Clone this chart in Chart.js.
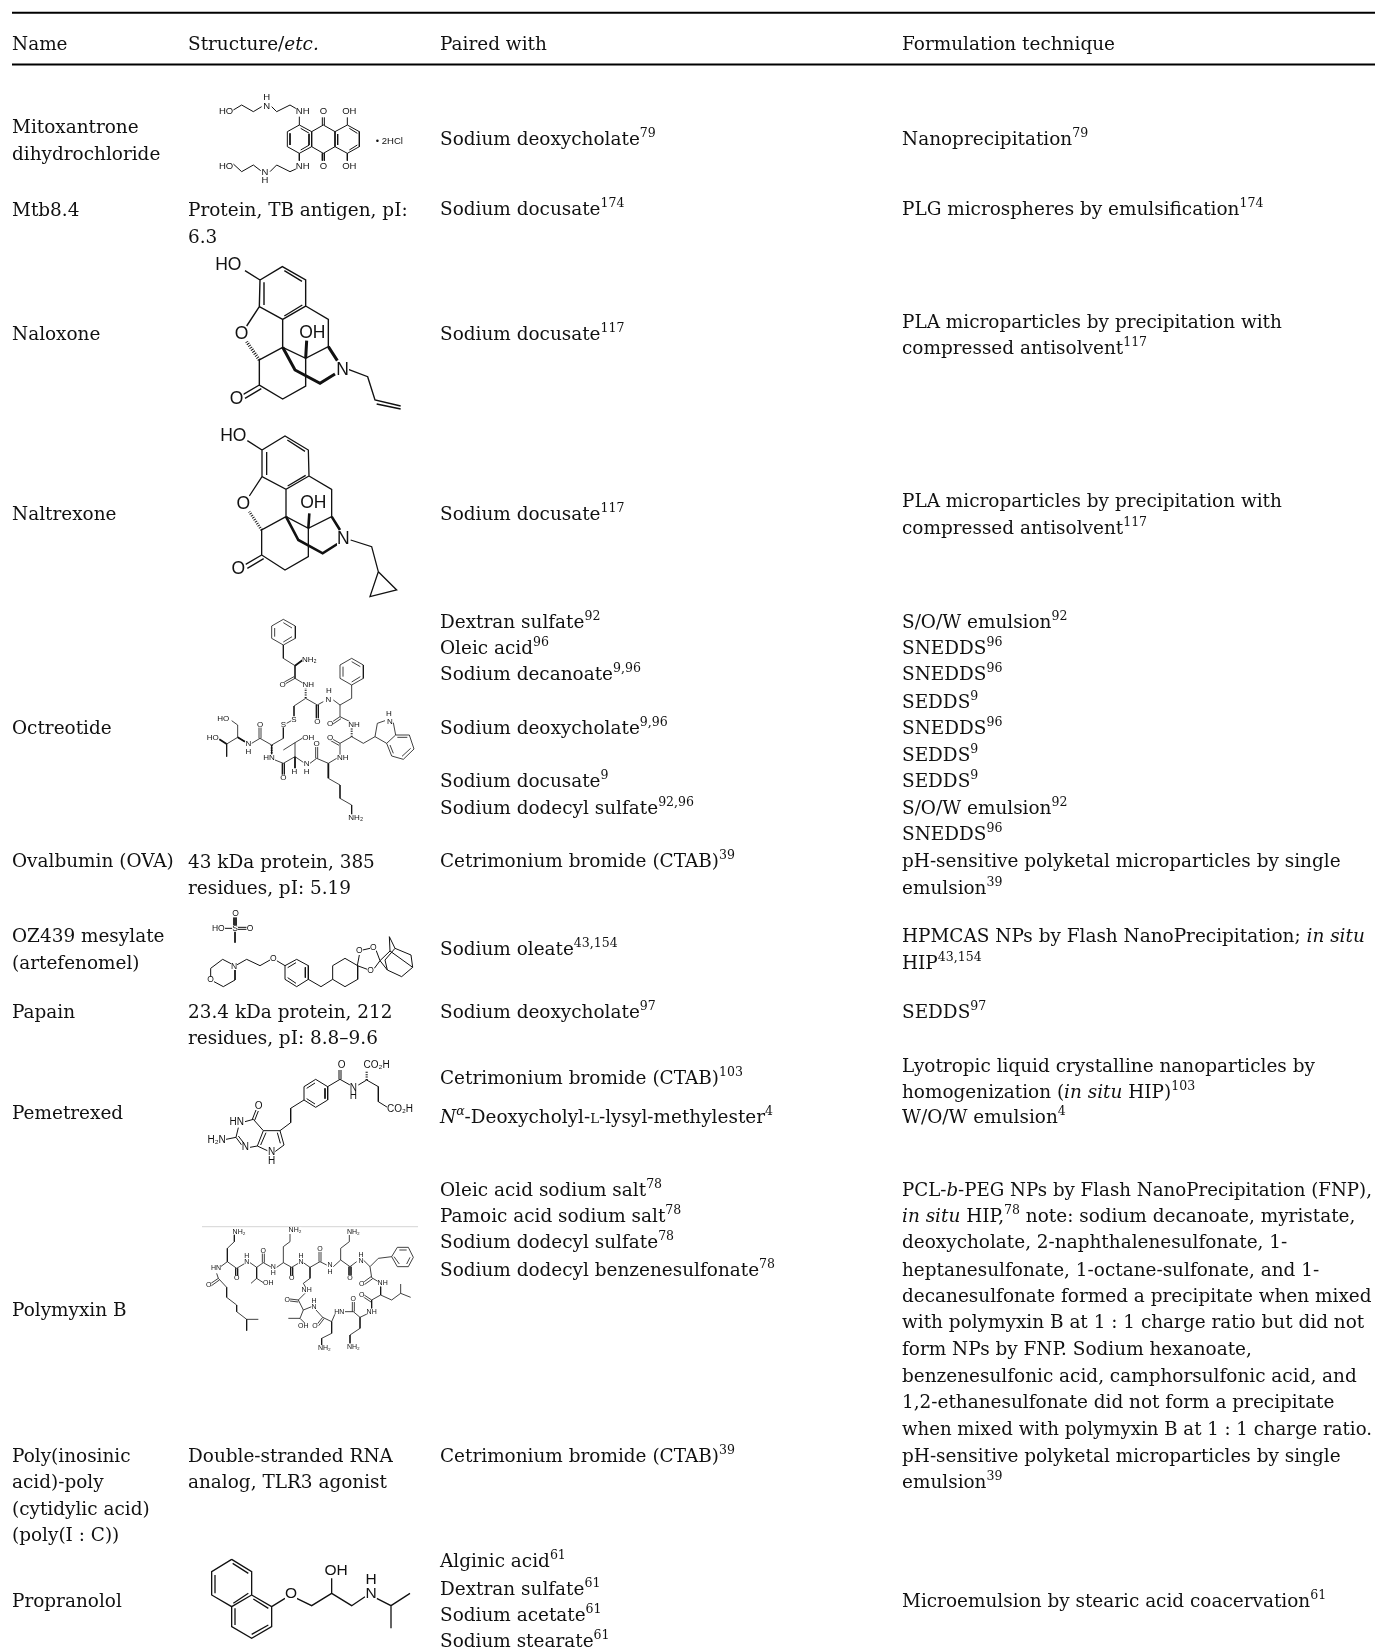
<!DOCTYPE html>
<html><head><meta charset="utf-8">
<style>html,body{margin:0;padding:0;background:#fff}#wrap{position:relative;width:1375px;height:1650px}canvas{display:block;filter:blur(.35px)}</style>
<script src="https://cdn.jsdelivr.net/npm/chart.js@4/dist/chart.umd.min.js"></script>
</head><body><div id="wrap"><canvas id="c" width="1375" height="1650"></canvas></div>
<script>
// ---------- table text (one entry per printed line); ^..^ superscript, *..* italic, ~..~ small caps
const headers = ["Name","Structure/*etc.*","Paired with","Formulation technique"];
const names = ["Mitoxantrone","dihydrochloride","Mtb8.4","Naloxone","Naltrexone","Octreotide","Ovalbumin (OVA)","OZ439 mesylate","(artefenomel)","Papain","Pemetrexed","Polymyxin B","Poly(inosinic","acid)-poly","(cytidylic acid)","(poly(I : C))","Propranolol"];
const structures = ["Protein, TB antigen, pI:","6.3","43 kDa protein, 385","residues, pI: 5.19","23.4 kDa protein, 212","residues, pI: 8.8–9.6","Double-stranded RNA","analog, TLR3 agonist"];
const pairedWith = ["Sodium deoxycholate^79^","Sodium docusate^174^","Sodium docusate^117^","Sodium docusate^117^","Dextran sulfate^92^","Oleic acid^96^","Sodium decanoate^9,96^","Sodium deoxycholate^9,96^","Sodium docusate^9^","Sodium dodecyl sulfate^92,96^","Cetrimonium bromide (CTAB)^39^","Sodium oleate^43,154^","Sodium deoxycholate^97^","Cetrimonium bromide (CTAB)^103^","*N*^*α*^-Deoxycholyl-~L~-lysyl-methylester^4^","Oleic acid sodium salt^78^","Pamoic acid sodium salt^78^","Sodium dodecyl sulfate^78^","Sodium dodecyl benzenesulfonate^78^","Cetrimonium bromide (CTAB)^39^","Alginic acid^61^","Dextran sulfate^61^","Sodium acetate^61^","Sodium stearate^61^"];
const techniques = ["Nanoprecipitation^79^","PLG microspheres by emulsification^174^","PLA microparticles by precipitation with","compressed antisolvent^117^","PLA microparticles by precipitation with","compressed antisolvent^117^","S/O/W emulsion^92^","SNEDDS^96^","SNEDDS^96^","SEDDS^9^","SNEDDS^96^","SEDDS^9^","SEDDS^9^","S/O/W emulsion^92^","SNEDDS^96^","pH-sensitive polyketal microparticles by single","emulsion^39^","HPMCAS NPs by Flash NanoPrecipitation; *in situ*","HIP^43,154^","SEDDS^97^","Lyotropic liquid crystalline nanoparticles by","homogenization (*in situ* HIP)^103^","W/O/W emulsion^4^","PCL-*b*-PEG NPs by Flash NanoPrecipitation (FNP),","*in situ* HIP,^78^ note: sodium decanoate, myristate,","deoxycholate, 2-naphthalenesulfonate, 1-","heptanesulfonate, 1-octane-sulfonate, and 1-","decanesulfonate formed a precipitate when mixed","with polymyxin B at 1 : 1 charge ratio but did not","form NPs by FNP. Sodium hexanoate,","benzenesulfonic acid, camphorsulfonic acid, and","1,2-ethanesulfonate did not form a precipitate","when mixed with polymyxin B at 1 : 1 charge ratio.","pH-sensitive polyketal microparticles by single","emulsion^39^","Microemulsion by stearic acid coacervation^61^"];

// ---------- molecule drawings: polylines [x,y,x,y,...], in crop pixels
const mitoBonds = [[70,60,95,45,130,65,155,50],[185,50,200,65,240,45,262,58],[70,222,95,245,130,225,152,242],[180,245,200,225,240,245,262,235],[268,105,305,125,305,170,268,190,232,170,232,125,268,105],[305,125,340,105,375,125,375,170,340,190,305,170],[375,125,412,105,448,125,448,170,412,190,375,170],[240,130,240,165],[272,115,298,130],[272,180,298,165],[297,132,297,165],[383,132,383,165],[418,115,442,130],[418,180,442,165],[268,105,268,80],[337,105,337,82],[343,105,343,82],[412,105,412,82],[268,190,268,212],[337,190,337,212],[343,190,343,212],[412,190,412,212]];
const mitoLabels = [[48,65,"HO"],[170,22,"H"],[170,48,"N"],[278,65,"NH"],[340,65,"O"],[418,65,"OH"],[48,228,"HO"],[278,228,"NH"],[165,248,"N"],[165,272,"H"],[340,228,"O"],[418,228,"OH"],[538,155,"• 2HCl"]];
const naloxBonds = [[165,62,210,90,277,50,347,90,347,168,278,208,208,170,210,90],[283,62,336,94],[337,165,283,198],[222,165,222,97],[347,168,415,208,415,290,347,325,278,292,278,208],[278,292,208,330,208,405,278,447,347,408,347,325],[208,170,170,228],[208,405,160,433],[214,416,165,445],[475,358,533,380,555,450,632,468],[560,462,632,477]];
const naloxWedges = [[278,292,315,360,390,400,435,372],[347,325,350,272],[415,290,442,332]];
const naloxHashes = [[208,330,170,275]];
const naloxLabels = [[115,47,"HO"],[155,252,"O"],[367,250,"OH"],[458,360,"N"],[140,447,"O"]];
const naltrBonds = [[172,572,216,600,285,558,355,600,357,678,288,718,216,680,216,600],[292,570,345,604],[347,676,293,708],[230,675,230,606],[357,678,425,718,425,800,355,835,288,800,288,718],[288,800,215,840,215,915,285,960,355,920,355,835],[216,680,178,738],[215,915,167,943],[221,926,172,955],[482,870,545,890,565,965,540,1040,620,1020,565,965]];
const naltrWedges = [[288,800,325,870,398,910,442,882],[355,835,358,790],[425,800,450,840]];
const naltrHashes = [[215,840,178,785]];
const naltrLabels = [[130,560,"HO"],[160,762,"O"],[370,760,"OH"],[460,868,"N"],[145,957,"O"]];
const octreoBonds = [[280,58,316,78,316,115,280,135,245,115,245,78,280,58],[280,68,306,84],[306,110,280,126],[254,110,254,84],[280,135,280,175,315,197,315,235,340,250],[315,235,285,252],[312,230,283,246],[347,295,312,318,312,350],[304,362,290,370],[280,380,280,415,245,435,210,415,185,430],[213,415,213,382],[207,415,207,382],[165,425,143,412,143,375,125,362],[143,412,110,432,110,470],[245,435,245,465],[255,480,280,490,315,470,315,428,280,450],[277,490,277,525],[283,490,283,525],[315,428,340,413],[315,470,340,487],[360,490,380,475,415,490,440,475],[377,475,377,438],[383,475,383,438],[415,535,450,555,450,595,485,615,485,645],[450,465,450,430,485,410,520,430,555,410,562,370,585,362],[450,430,420,413],[447,436,417,419],[610,368,617,405,590,430,555,410],[617,405,658,405,672,447,640,478,605,468,590,430],[622,412,652,412],[662,445,636,469],[600,435,610,460],[480,365,450,350,450,315,485,295,485,255],[450,350,420,370],[453,356,423,376],[485,175,520,195,520,235,485,255,450,235,450,195,485,175],[485,185,511,200],[511,230,485,246],[459,230,459,200],[450,315,430,300],[400,305,382,315,347,295],[379,315,379,355],[385,315,385,355]];
const octreoWedges = [[315,197,338,180],[143,412,165,425],[110,432,88,418],[415,490,415,535],[315,470,315,505]];
const octreoHashes = [[347,262,347,295],[245,435,245,462],[485,410,485,385]];
const octreoLabels = [[358,178,"NH₂"],[355,255,"NH"],[417,272,"H"],[415,300,"N"],[382,365,"O"],[278,255,"O"],[312,358,"S"],[280,373,"S"],[210,373,"O"],[100,355,"HO"],[68,412,"HO"],[175,432,"N"],[175,455,"H"],[237,472,"HN"],[280,533,"O"],[313,516,"H"],[350,490,"N"],[350,515,"H"],[355,412,"OH"],[380,432,"O"],[458,473,"NH"],[420,413,"O"],[492,373,"NH"],[420,370,"O"],[600,365,"N"],[597,342,"H"],[497,652,"NH₂"]];
const ozBonds = [[138,52,138,75],[132,52,132,75],[105,85,128,85],[143,82,170,82],[143,88,170,88],[135,95,135,128],[62,230,62,205,98,178,125,192],[135,210,135,240,100,260,72,245],[140,195,170,178,210,197,240,180],[260,182,285,197,320,178,355,197,355,238,320,260,285,238,285,197],[293,203,318,188],[346,202,346,233],[293,233,318,250],[355,238,393,260,428,238,428,197,465,175,503,197,503,238,465,260,428,238]];
const ozCageBonds = [[52,122,58,90],[68,75,90,70],[52,122,82,133],[103,130,120,107],[108,75,120,107],[120,107,150,78,148,35,165,70,213,90,218,127,185,155,142,135,120,107],[150,78,218,127],[165,70,135,105,142,135]];
const ozLabels = [[137,42,"O"],[85,87,"HO"],[135,85,"S"],[180,87,"O"],[62,240,"O"],[132,200,"N"],[250,175,"O"]];
const ozCageLabels = [[58,78,"O"],[100,68,"O"],[92,138,"O"]];
const pemeBonds = [[342,560,377,538,413,560,413,600,377,622,342,600,342,560],[350,565,375,549],[405,565,405,596],[350,596,375,612],[413,560,450,538,480,555],[447,538,447,510],[453,538,453,510],[505,555,530,540,565,560,565,605,597,625]];
const pemeHashes = [[530,540,530,512]];
const pemeLabels = [[455,495,"O"],[560,497,"CO₂H"],[490,565,"N"],[490,590,"H"],[630,628,"CO₂H"]];
const pemeRingBonds = [[312,120,272,145,272,188,240,212],[157,178,168,150],[164,181,175,153],[135,185,160,178,190,212,240,212,252,255,225,275],[190,212,172,258],[198,218,182,255],[172,258,150,262],[125,255,108,232],[132,250,115,228],[108,232,115,203],[78,238,108,232],[202,272,172,258],[232,218,241,250]];
const pemeRingLabels = [[176,138,"O"],[110,188,"HN"],[50,240,"H₂N"],[136,263,"N"],[215,278,"N"],[215,305,"H"]];
const polyBonds = [[133,72,133,95,112,115,112,155,92,170],[112,155,140,175,165,160],[137,175,137,197],[143,175,143,197],[180,158,200,172,220,158,245,172],[217,158,217,130],[223,158,223,130],[200,172,200,205,183,220],[200,205,220,218],[260,172,280,158,280,110,300,95,300,72],[280,158,305,172,325,160],[302,172,302,197],[308,172,308,197],[340,158,360,172,390,155,410,165],[387,155,387,125],[393,155,393,125],[360,172,360,205,340,220,347,232],[430,170,452,150,452,115,478,95,478,75],[452,150,480,170,500,155],[477,170,477,195],[483,170,483,195],[520,150,540,170,565,145,605,140],[605,140,622,112,655,112,670,142,655,170,622,170,605,140],[628,120,650,120],[660,142,650,162],[612,140,628,162],[540,170,545,203,565,215],[543,200,520,217],[548,206,523,224],[572,230,572,255,605,270,632,250,632,222],[632,250,662,262],[572,255,545,270,545,295],[545,270,518,252],[543,276,516,258],[535,310,510,322,490,305,465,305],[487,305,487,275],[493,305,493,275],[435,312,425,335,398,322,378,300],[398,322,382,342],[402,326,386,347],[365,290,340,300,325,270,345,250],[325,270,300,267],[325,276,300,273],[340,300,330,325,345,340],[330,325,295,325],[425,335,425,370,395,385,395,405],[510,322,510,355,480,375,480,400],[80,190,85,205,110,232,110,262,140,285,140,305,170,328,205,328],[85,205,60,222],[88,210,63,228],[170,328,170,362]];
const polyLabels = [[147,66,"NH₂"],[315,60,"NH₂"],[490,65,"NH₂"],[78,175,"HN"],[170,137,"H"],[170,155,"N"],[220,122,"O"],[333,137,"H"],[333,155,"N"],[390,117,"O"],[420,165,"N"],[420,185,"H"],[513,135,"H"],[513,152,"N"],[140,205,"O"],[250,170,"N"],[250,190,"H"],[305,205,"O"],[235,220,"OH"],[56,225,"O"],[480,203,"O"],[350,240,"NH"],[578,218,"NH"],[515,222,"O"],[292,270,"O"],[372,272,"H"],[372,290,"N"],[515,255,"O"],[490,268,"O"],[448,305,"HN"],[545,305,"NH"],[340,348,"OH"],[375,348,"O"],[403,415,"NH₂"],[490,410,"NH₂"]];
const propBonds = [[125,1048,185,1085,185,1155,125,1190,65,1155,65,1085,125,1048],[128,1060,175,1090],[75,1095,75,1150],[130,1180,175,1150],[185,1155,245,1190,245,1250,185,1285,125,1250,125,1190],[190,1167,235,1195],[185,1273,235,1245],[135,1195,135,1245],[245,1190,285,1165],[320,1165,365,1187,425,1150,485,1187,525,1160],[425,1150,425,1105],[560,1165,603,1187,660,1150],[603,1187,603,1255]];
const propLabels = [[303,1152,"O"],[438,1082,"OH"],[543,1108,"H"],[543,1150,"N"]];

// ---------- layout, separate from the values
const colX = [12,188,440,902];
const headerY = 41;
const nameY = [120,145,199,317,488,691,817,889,914,961,1057,1244,1383,1408,1433,1458,1521];
const structY = [199,224,818,843,961,986,1383,1408];
const pairedY = [131,198,317,488,590,615,640,691,741,767,817,901,961,1024,1061,1130,1155,1180,1206,1383,1483,1509,1534,1559];
const techY = [131,198,305,330,475,501,590,615,640,666,691,717,741,767,792,817,843,889,914,961,1012,1037,1061,1130,1155,1180,1206,1231,1256,1281,1307,1332,1357,1383,1408,1521];
const SHRINK = 1375/1307;
const ruleYs = [12.8,64.6];
const BODY = '"DejaVu Serif"', BODY_SIZE = 18.45, SANS='"Liberation Sans"', RIGHT_LIMIT=1372;
const molecules = [
 {b:mitoBonds,l:mitoLabels,ox:210,oy:90,kx:1/3,ky:1/3,w:1,fs:9.5},
 {b:naloxBonds,wd:naloxWedges,h:naloxHashes,l:naloxLabels,ox:190,oy:250,kx:1/3,ky:1/3,w:1.4,ww:3,fs:17.5},
 {b:naltrBonds,wd:naltrWedges,h:naltrHashes,l:naltrLabels,ox:190,oy:250,kx:1/3,ky:1/3,w:1.3,ww:2.6,fs:17.5},
 {b:octreoBonds,wd:octreoWedges,h:octreoHashes,l:octreoLabels,ox:190,oy:600,kx:1/3,ky:1/3,w:.8,ww:1.8,fs:8},
 {b:ozBonds,l:ozLabels,ox:190,oy:900,kx:1/3,ky:1/3,w:1,fs:8.5},
 {b:ozCageBonds,l:ozCageLabels,ox:340,oy:925,kx:1/3,ky:1/3,w:1,fs:8.5},
 {b:pemeBonds,h:pemeHashes,l:pemeLabels,ox:190,oy:900,kx:1/3,ky:1/3,w:1,fs:10},
 {b:pemeRingBonds,l:pemeRingLabels,ox:200,oy:1060,kx:1/3,ky:1/3,w:1,fs:10},
 {b:polyBonds,l:polyLabels,ox:190,oy:1210,kx:1/3,ky:1/3,w:.8,fs:7},
 {b:propBonds,l:propLabels,ox:190,oy:1210,kx:1/3,ky:1/3,w:1.3,fs:15.5}
];

function toPoints(lines,m){
  const out=[];
  for(const ln of lines){
    for(let i=0;i<ln.length;i+=2) out.push({x:m.ox+ln[i]*m.kx,y:m.oy+ln[i+1]*m.ky});
    out.push({x:null,y:null});
  }
  return out;
}
const INK='#111';
const datasets=[];
for(const y of ruleYs) datasets.push({data:[{x:12,y},{x:1375,y}],showLine:true,pointRadius:0,borderColor:'#000',borderWidth:2});
datasets.push({data:[{x:202,y:1226.7},{x:418,y:1226.7}],showLine:true,pointRadius:0,borderColor:'#d4d4d4',borderWidth:1});
for(const m of molecules){
  datasets.push({data:toPoints(m.b,m),showLine:true,pointRadius:0,borderColor:INK,borderWidth:m.w,spanGaps:false});
  if(m.wd) datasets.push({data:toPoints(m.wd,m),showLine:true,pointRadius:0,borderColor:INK,borderWidth:m.ww,spanGaps:false});
  if(m.h) datasets.push({data:toPoints(m.h,m),showLine:true,pointRadius:0,borderColor:INK,borderWidth:(m.ww||2)*1.1,borderDash:[1,1.4],spanGaps:false});
}
function tokens(s){
  const out=[];let sup=false,it=false,sc=false,buf='';
  const flush=()=>{if(buf){out.push({t:buf,sup,it,sc});buf='';}};
  for(const ch of s){
    if(ch==='^'){flush();sup=!sup;}
    else if(ch==='*'){flush();it=!it;}
    else if(ch==='~'){flush();sc=!sc;}
    else buf+=ch;
  }
  flush();return out;
}
function setFont(ctx,r){
  const size=r.sup?BODY_SIZE*0.68:(r.sc?BODY_SIZE*0.72:BODY_SIZE);
  ctx.font=(r.it?'italic ':'')+size+'px '+BODY;
}
function drawRich(ctx,s,x,y,limit){
  const runs=tokens(s);
  let total=0;
  for(const r of runs){setFont(ctx,r);total+=ctx.measureText(r.t).width;}
  const sq=x+total>limit?(limit-x)/total:1;
  ctx.save();ctx.translate(x,y);ctx.scale(sq,1);
  let cx=0;
  for(const r of runs){
    setFont(ctx,r);
    ctx.fillText(r.t,cx,r.sup?-8:0);
    cx+=ctx.measureText(r.t).width;
  }
  ctx.restore();
}
const tablePlugin={id:'tableText',afterDatasetsDraw(chart){
  const {ctx,scales:{x:sx,y:sy}}=chart;
  const lim=sx.getPixelForValue(RIGHT_LIMIT);
  ctx.save();ctx.fillStyle='#111';ctx.textBaseline='alphabetic';ctx.textAlign='left';
  const col=(lines,ys,c)=>lines.forEach((s,i)=>drawRich(ctx,s,sx.getPixelForValue(colX[c]),sy.getPixelForValue(ys[i]*SHRINK+7),lim));
  headers.forEach((h,c)=>drawRich(ctx,h,sx.getPixelForValue(colX[c]),sy.getPixelForValue(headerY*SHRINK+7),lim));
  col(names,nameY,0);col(structures,structY,1);col(pairedWith,pairedY,2);col(techniques,techY,3);
  ctx.textAlign='center';ctx.textBaseline='middle';
  for(const m of molecules){
    ctx.font=m.fs+'px '+SANS;
    for(const [x,y,t] of m.l){
      const px=sx.getPixelForValue(m.ox+x*m.kx),py=sy.getPixelForValue(m.oy+y*m.ky);
      const w=ctx.measureText(t).width;
      ctx.fillStyle='#fff';ctx.fillRect(px-w/2,py-m.fs*.38,w,m.fs*.76);
      ctx.fillStyle=INK;ctx.fillText(t,px,py);
    }
  }
  ctx.restore();
}};
new Chart(document.getElementById('c'),{type:'scatter',data:{datasets},plugins:[tablePlugin],options:{
  responsive:false,animation:false,devicePixelRatio:1,layout:{padding:0},
  plugins:{legend:{display:false},tooltip:{enabled:false},title:{display:false}},
  scales:{x:{type:'linear',min:0,max:1375,display:false},y:{type:'linear',min:0,max:1650,reverse:true,display:false}}
}});
</script></body></html>
